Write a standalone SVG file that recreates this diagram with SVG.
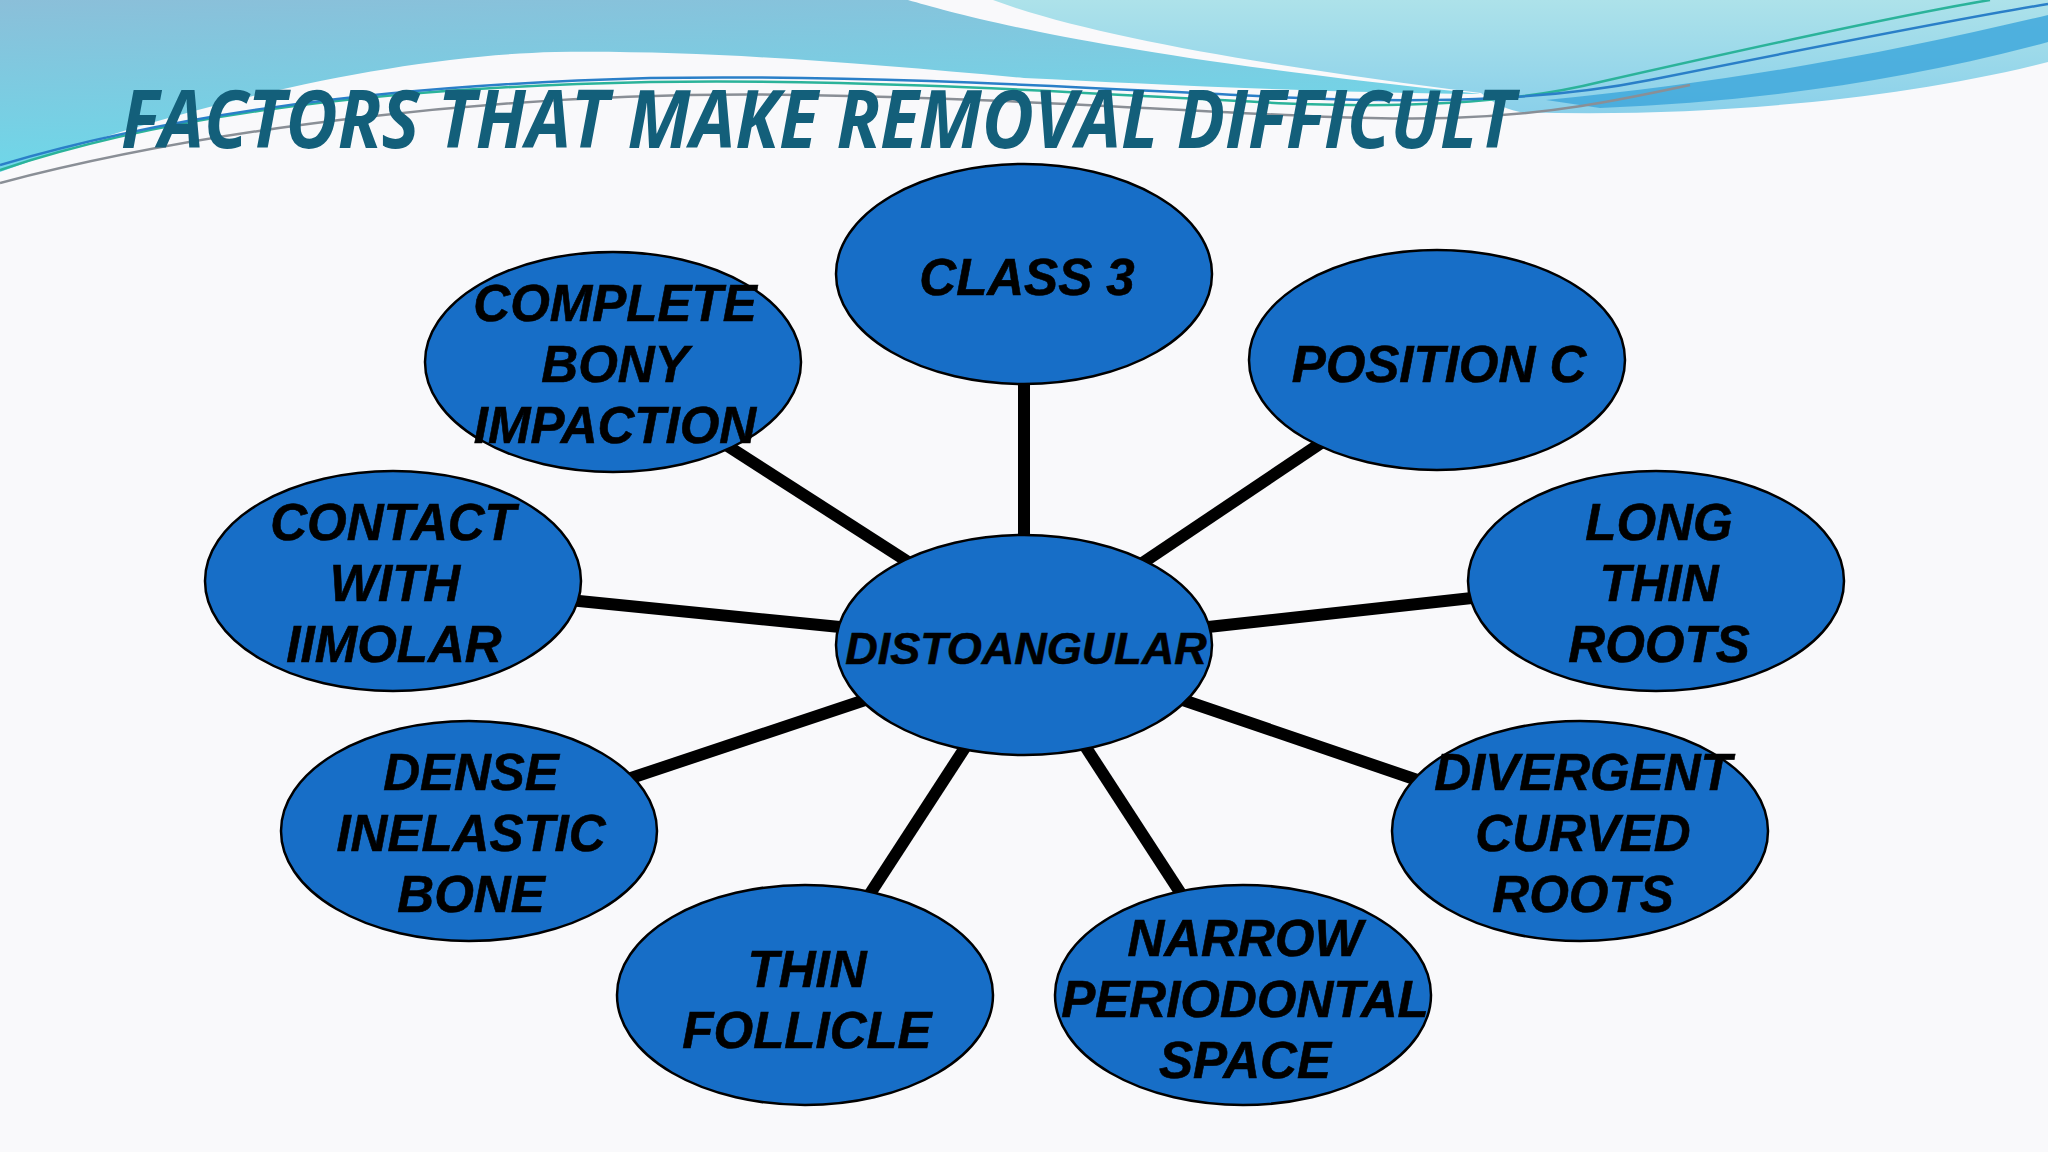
<svg xmlns="http://www.w3.org/2000/svg" width="2048" height="1152" viewBox="0 0 2048 1152">
<defs>
<linearGradient id="gA" x1="0" y1="0" x2="0.3" y2="1">
<stop offset="0" stop-color="#8bbfd9"/>
<stop offset="1" stop-color="#6cd9ea"/>
</linearGradient>
<linearGradient id="gB" x1="0" y1="0" x2="0" y2="1">
<stop offset="0" stop-color="#ade2ea"/>
<stop offset="1" stop-color="#8ad0ea"/>
</linearGradient>
<style>
.node ellipse{fill:#176ec7;stroke:#000;stroke-width:2.5}
.node text{font-family:"Liberation Sans",Arial,sans-serif;font-weight:bold;font-style:italic;font-size:51px;fill:#000;text-anchor:middle;stroke:#000;stroke-width:0.6}
#connectors line{stroke:#000;stroke-width:12}
.title{font-family:"Open Sans","Liberation Sans",sans-serif;font-weight:bold;font-style:italic;font-size:80px;fill:#135f7a}
.thin{fill:none;stroke-width:2.5}
</style>
</defs>
<rect width="2048" height="1152" fill="#f9f9fb"/>
<g id="decoration">
<path d="M0,0 H908 C960,15 1100,55 1481,94 C1300,92 1150,84 1024,78 C850,62 700,50 555,52 C400,56 200,100 0,172 Z" fill="url(#gA)"/>
<path d="M993,0 H2048 V62 C1900,100 1700,118 1520,112 C1500,108 1490,100 1481,93 C1300,70 1100,40 993,0 Z" fill="url(#gB)"/>
<path d="M1546,100 C1750,80 1900,50 2048,15 V42 C1900,82 1750,102 1600,108 Z" fill="#3fa8dc" opacity="0.85"/>
<path class="thin" d="M0,170 C150,120 350,88 650,82 C900,78 1150,98 1300,104 C1420,108 1520,102 1600,82 C1750,48 1900,15 1990,0" stroke="#2bb39a"/>
<path class="thin" d="M0,165 C160,118 360,86 650,78 C900,74 1150,92 1300,98 C1450,104 1560,98 1650,80 C1800,50 1950,20 2048,4" stroke="#2a7fc8"/>
<path class="thin" d="M0,183 C200,130 500,90 800,95 C1100,100 1300,122 1450,118 C1550,115 1620,100 1690,85" stroke="#8a8f96"/>
</g>
<text class="title" x="121" y="148" textLength="1394" lengthAdjust="spacingAndGlyphs">FACTORS THAT MAKE REMOVAL DIFFICULT</text>
<g id="connectors">
<line x1="1024" y1="380" x2="1024" y2="540"/>
<line x1="723" y1="443" x2="916" y2="567"/>
<line x1="1327" y1="439" x2="1135" y2="568"/>
<line x1="569" y1="600" x2="850" y2="628"/>
<line x1="1481" y1="597" x2="1199" y2="628"/>
<line x1="622" y1="781" x2="871" y2="698"/>
<line x1="1426" y1="783" x2="1177" y2="698"/>
<line x1="864" y1="903" x2="968" y2="743"/>
<line x1="1187" y1="903" x2="1083" y2="743"/>
</g>
<g id="node-class3" class="node">
<ellipse cx="1024" cy="274" rx="188" ry="110"/>
<text x="1027" y="295">CLASS 3</text>
</g>
<g id="node-complete" class="node">
<ellipse cx="613" cy="362" rx="188" ry="110"/>
<text x="615" y="321">COMPLETE</text>
<text x="615" y="382">BONY</text>
<text x="615" y="443">IMPACTION</text>
</g>
<g id="node-position" class="node">
<ellipse cx="1437" cy="360" rx="188" ry="110"/>
<text x="1439" y="382">POSITION C</text>
</g>
<g id="node-contact" class="node">
<ellipse cx="393" cy="581" rx="188" ry="110"/>
<text x="393" y="540">CONTACT</text>
<text x="395" y="601">WITH</text>
<text x="394" y="662">IIMOLAR</text>
</g>
<g id="node-long" class="node">
<ellipse cx="1656" cy="581" rx="188" ry="110"/>
<text x="1659" y="540">LONG</text>
<text x="1659" y="601">THIN</text>
<text x="1659" y="662">ROOTS</text>
</g>
<g id="node-distoangular" class="node">
<ellipse cx="1024" cy="645" rx="188" ry="110"/>
<text x="1026" y="664" style="font-size:45px">DISTOANGULAR</text>
</g>
<g id="node-dense" class="node">
<ellipse cx="469" cy="831" rx="188" ry="110"/>
<text x="471" y="790">DENSE</text>
<text x="471" y="851">INELASTIC</text>
<text x="471" y="912">BONE</text>
</g>
<g id="node-divergent" class="node">
<ellipse cx="1580" cy="831" rx="188" ry="110"/>
<text x="1583" y="790">DIVERGENT</text>
<text x="1583" y="851">CURVED</text>
<text x="1583" y="912">ROOTS</text>
</g>
<g id="node-thin" class="node">
<ellipse cx="805" cy="995" rx="188" ry="110"/>
<text x="807" y="987">THIN</text>
<text x="807" y="1048">FOLLICLE</text>
</g>
<g id="node-narrow" class="node">
<ellipse cx="1243" cy="995" rx="188" ry="110"/>
<text x="1245" y="956">NARROW</text>
<text x="1245" y="1017">PERIODONTAL</text>
<text x="1245" y="1078">SPACE</text>
</g>
</svg>
